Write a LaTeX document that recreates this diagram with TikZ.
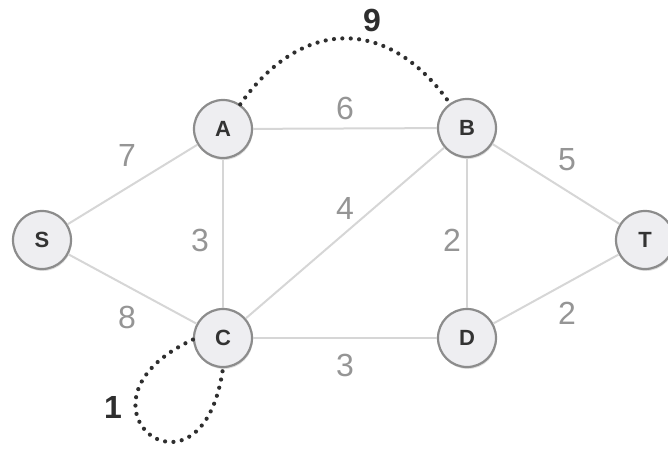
\documentclass[tikz,border=0pt]{standalone}
\usepackage{fontspec}
\setmainfont{Liberation Sans}
\usepackage{tikz}
\usetikzlibrary{shadows}
\definecolor{nodefill}{HTML}{EEEEF1}
\definecolor{nodeline}{HTML}{8C8C8C}
\definecolor{edgegray}{HTML}{D6D6D6}
\definecolor{weightgray}{HTML}{959595}
\definecolor{dotdark}{HTML}{2E2E2E}

\begin{document}
\begin{tikzpicture}
    [x=0.5pt,y=0.5pt,
      vertex/.style={circle,fill=nodefill,draw=nodeline,line width=1.1pt,minimum size=29pt,inner sep=0pt,
        font=\fontsize{11}{12}\selectfont\bfseries,text=black!80,
        drop shadow={shadow xshift=0.4pt,shadow yshift=-1pt,opacity=0.25}},
      weight/.style={font=\fontsize{16}{18}\selectfont,text=weightgray},
      special weight/.style={font=\fontsize{16}{18}\selectfont\bfseries,text=dotdark},
      edge line/.style={draw=edgegray,line width=1pt},
      dot line/.style={draw=dotdark,line width=2.1pt,line cap=round,dash pattern=on 0pt off 4.2pt}]
      \useasboundingbox (0,0) rectangle (668,449);

      \node[vertex] (S) at (42,209) {S};
      \node[vertex] (A) at (223,320) {A};
      \node[vertex] (B) at (467,321) {B};
      \node[vertex] (C) at (223,111) {C};
      \node[vertex] (D) at (467,111) {D};
      \node[vertex] (T) at (645,209) {T};

      \node[weight] (wSA) at (127,294) {7};
      \node[weight] (wAB) at (345,341) {6};
      \node[weight] (wBT) at (567,289) {5};
      \node[weight] (wAC) at (200,209) {3};
      \node[weight] (wCB) at (345,241) {4};
      \node[weight] (wBD) at (452,209) {2};
      \node[weight] (wSC) at (127,132) {8};
      \node[weight] (wCD) at (345,84) {3};
      \node[weight] (wDT) at (567,136) {2};
      \node[special weight] (wAB2) at (372,429) {9};
      \node[special weight] (wCC) at (113,42) {1};

      \foreach \from/\to in {
	  S/A,S/C,A/B,A/C,C/B,
	  B/T,B/D,C/D,D/T}
	\draw[edge line] (\from) -- (\to);

      % dotted extra edges
      \draw[dot line] (A) to[out=55,in=125,looseness=1.3] (B);
      \draw[dot line] (C.183) to[out=205,in=262,out distance=75pt,in distance=76pt] (C.270);
    \end{tikzpicture}
\end{document}
